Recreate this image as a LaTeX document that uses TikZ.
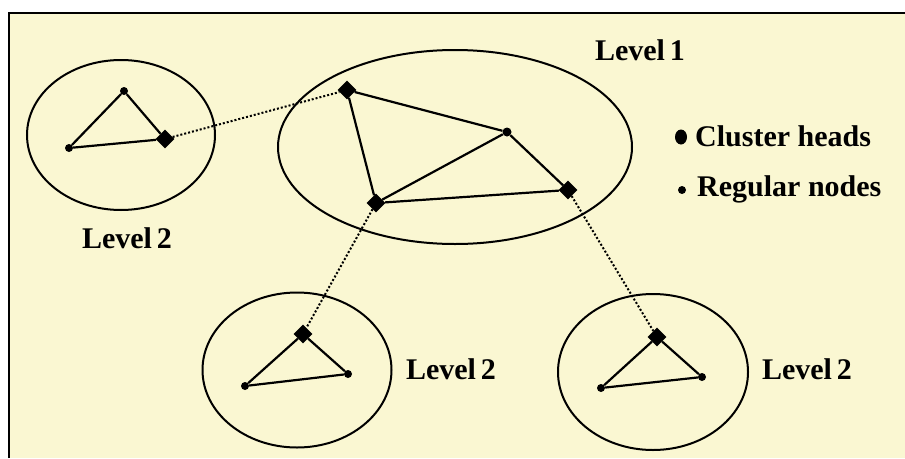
\documentclass[tikz,border=0pt]{standalone}
\usepackage{fontspec}
\setmainfont{Liberation Serif}
\usetikzlibrary{shapes.geometric}
\definecolor{cream}{RGB}{250,247,210}
\begin{document}
\begin{tikzpicture}[x=1pt,y=-1pt,
  clusterhead/.style={diamond,fill=black,inner sep=0pt,minimum size=19pt},
  regular/.style={circle,fill=black,inner sep=0pt,minimum size=8pt},
  region/.style={ellipse,draw=black,line width=2pt,inner sep=0pt},
  link/.style={line width=2.2pt},
  farlink/.style={line width=2pt,dotted},
  lbl/.style={font=\fontsize{30}{34}\selectfont\bfseries,inner sep=0pt}]
\useasboundingbox (0,0) rectangle (905,458);
\fill[white] (0,0) rectangle (905,458);
\fill[cream] (9,13) rectangle (905,458);
\draw[line width=2.6pt] (9,458) -- (9,13) -- (905,13);
% regions
\node[region,minimum width=188pt,minimum height=150pt] (e1) at (121,135) {};
\node[region,minimum width=354pt,minimum height=194pt] (e0) at (455,147) {};
\node[region,minimum width=189pt,minimum height=155pt] (e2) at (297,370) {};
\node[region,minimum width=190pt,minimum height=156pt] (e3) at (653,372) {};
% left cluster
\node[regular] (l1) at (124,91) {};
\node[clusterhead] (lh) at (165,139) {};
\node[regular] (l2) at (69,148) {};
\draw[link] (l2) -- (l1) -- (lh) -- (l2);
% central cluster
\node[clusterhead] (a) at (347,90) {};
\node[regular,minimum size=9pt] (b) at (507,132) {};
\node[clusterhead] (c) at (376,203) {};
\node[clusterhead] (d) at (568,190) {};
\draw[link] (a) -- (b) -- (d) -- (c) -- (a);
\draw[link] (c) -- (b);
% bottom middle cluster
\node[clusterhead] (mh) at (303,334) {};
\node[regular] (m1) at (348,374) {};
\node[regular] (m2) at (245,386) {};
\draw[link] (mh) -- (m1) -- (m2) -- (mh);
% bottom right cluster
\node[clusterhead] (rh) at (657,337) {};
\node[regular] (r1) at (702,377) {};
\node[regular] (r2) at (601,388) {};
\draw[link] (rh) -- (r1) -- (r2) -- (rh);
% inter-cluster links
\draw[farlink] (lh) -- (a);
\draw[farlink] (c) -- (mh);
\draw[farlink] (d) -- (rh);
% labels
\node[lbl] (t0) at (640,50) {Level\,1};
\node[lbl] (t1) at (127,238) {Level\,2};
\node[lbl] (t2) at (451,369) {Level\,2};
\node[lbl] (t3) at (807,369) {Level\,2};
% legend
\node[ellipse,fill=black,inner sep=0pt,minimum width=12pt,minimum height=15pt] (k1) at (681,137) {};
\node[lbl,anchor=west] (k1t) at (695,136) {Cluster heads};
\node[circle,fill=black,inner sep=0pt,minimum size=8pt] (k2) at (682,190) {};
\node[lbl,anchor=west] (k2t) at (697,189) {Regular nodes};
\end{tikzpicture}
\end{document}
